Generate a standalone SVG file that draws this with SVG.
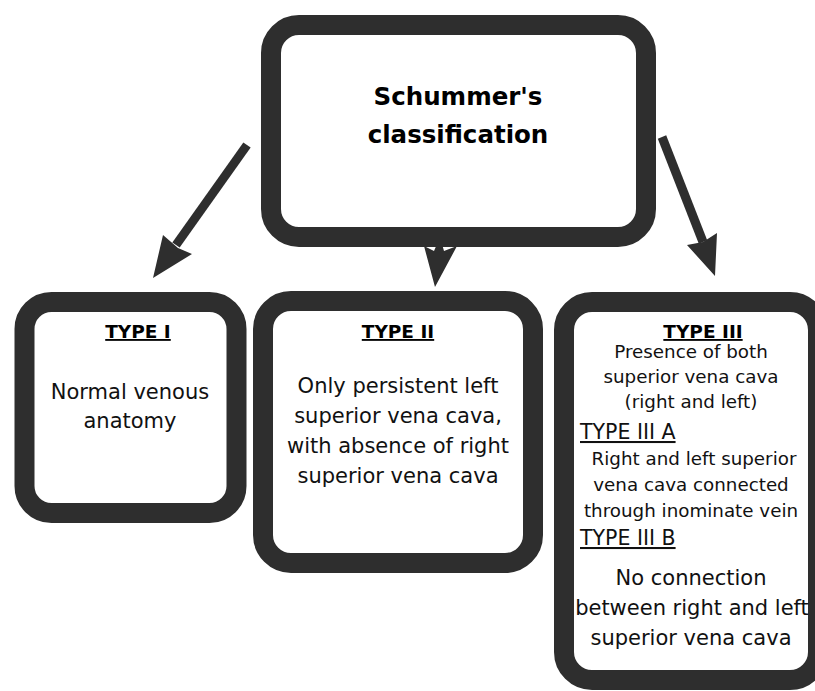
<svg xmlns="http://www.w3.org/2000/svg" width="815" height="691" viewBox="0 0 815 691">
<style>
.box{fill:#fff;stroke:#2e2e2e;stroke-width:20}
.shaft{stroke:#2e2e2e;stroke-width:9;fill:none}
.head{fill:#2e2e2e}
text{font-family:"DejaVu Sans","Liberation Sans",sans-serif;fill:#111}
.title{font-weight:bold;font-size:24.5px;text-anchor:middle;fill:#000}
.hd{font-weight:bold;font-size:18.5px;text-anchor:middle;text-decoration:underline;fill:#000}
.sub{font-size:20.5px;text-decoration:underline}
.b21{font-size:21px;text-anchor:middle}
.b18{font-size:18.3px;text-anchor:middle}
</style>
<rect width="815" height="691" fill="#fff"/>
<g id="connectors">
<line class="shaft" x1="247" y1="145" x2="176" y2="245"/>
<polygon class="head" points="163,235 178,248 192,254 153,278"/>
<line class="shaft" x1="662" y1="137" x2="703" y2="242"/>
<polygon class="head" points="687,245 703,242 717,233 715,276"/>
<polygon class="head" points="424,246 434,251 437,244 442,244 444,251 457,246 435,287"/>
</g>
<g id="root">
<rect class="box" x="271" y="25" width="375" height="212" rx="28"/>
<text class="title" x="458" y="105">Schummer's</text>
<text class="title" x="458" y="143">classification</text>
</g>
<g id="type1">
<rect class="box" x="24.5" y="302" width="212" height="211" rx="27"/>
<text class="hd" x="138" y="338">TYPE I</text>
<text class="b21" x="130" y="399">Normal venous</text>
<text class="b21" x="130" y="428">anatomy</text>
</g>
<g id="type2">
<rect class="box" x="263" y="301" width="270" height="262" rx="28"/>
<text class="hd" x="398" y="338">TYPE II</text>
<text class="b21" x="398" y="393">Only persistent left</text>
<text class="b21" x="398" y="423">superior vena cava,</text>
<text class="b21" x="398" y="453">with absence of right</text>
<text class="b21" x="398" y="483">superior vena cava</text>
</g>
<g id="type3">
<rect class="box" x="564" y="302" width="254" height="378" rx="28"/>
<text class="hd" x="703" y="338">TYPE III</text>
<text class="b18" x="691" y="358">Presence of both</text>
<text class="b18" x="691" y="383">superior vena cava</text>
<text class="b18" x="691" y="408">(right and left)</text>
<text class="sub" x="580" y="439">TYPE III A</text>
<text class="b18" x="694" y="465">Right and left superior</text>
<text class="b18" x="691" y="491">vena cava connected</text>
<text class="b18" x="691" y="517">through inominate vein</text>
<text class="sub" x="580" y="545">TYPE III B</text>
<text class="b21" x="691" y="585">No connection</text>
<text class="b21" x="692" y="615">between right and left</text>
<text class="b21" x="691" y="645">superior vena cava</text>
</g>
</svg>
